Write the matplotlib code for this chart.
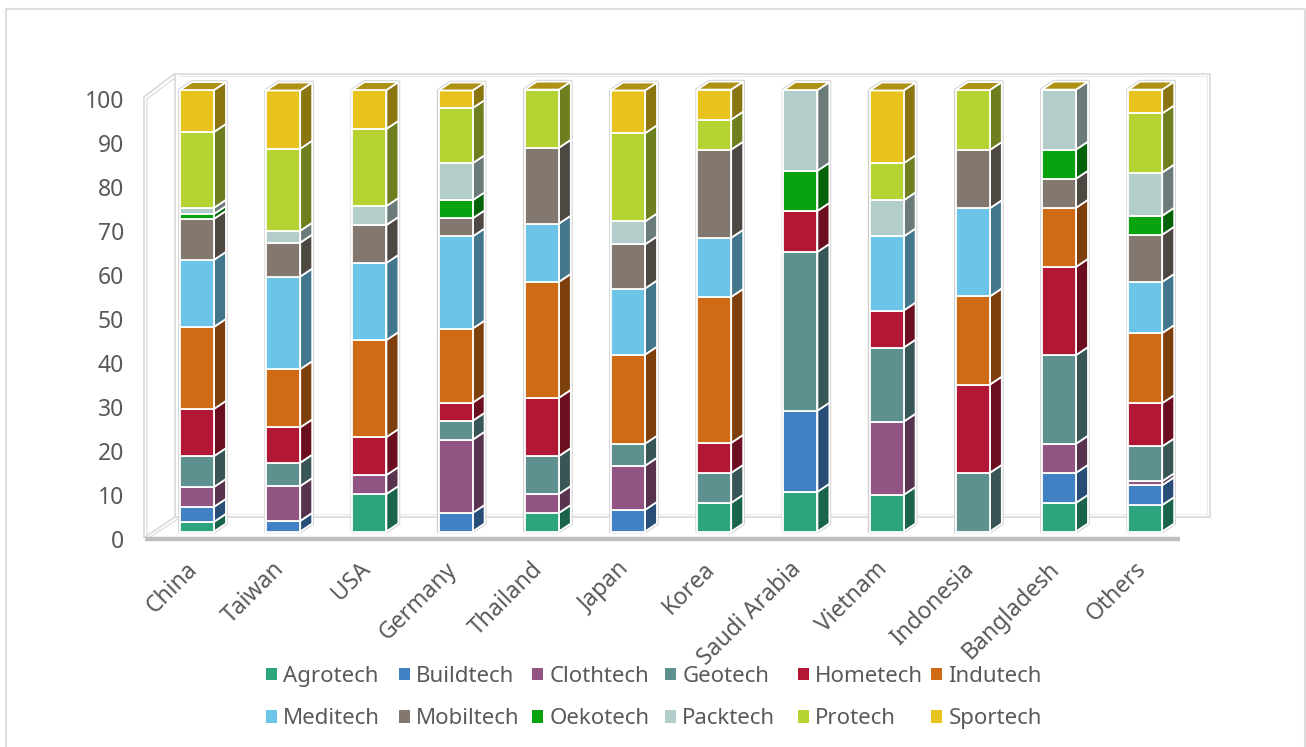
import matplotlib
matplotlib.use("Agg")
import matplotlib.pyplot as plt
from matplotlib.lines import Line2D
from matplotlib.patches import Polygon, Patch
from matplotlib.transforms import Affine2D
from matplotlib.colors import to_rgb

countries = ["China", "Taiwan", "USA", "Germany", "Thailand", "Japan", "Korea",
             "Saudi Arabia", "Vietnam", "Indonesia", "Bangladesh", "Others"]
agrotech  = [2.2, 0, 8.5, 0, 4.2, 0, 6.5, 9, 8.3, 0, 6.5, 6]
buildtech = [3.4, 2.4, 0, 4.2, 0, 4.9, 0, 18.4, 0, 0, 6.8, 4.5]
clothtech = [4.5, 7.9, 4.3, 16.6, 4.3, 10, 0, 0, 16.6, 0, 6.6, 0.9]
geotech   = [7, 5.3, 0, 4.3, 8.6, 5, 6.8, 36, 16.8, 13.3, 20.1, 7.9]
hometech  = [10.7, 8, 8.6, 4.1, 13.2, 0, 6.8, 9.3, 8.4, 20, 20, 9.8]
indutech  = [18.6, 13.2, 22, 16.8, 26.3, 20.2, 33.1, 0, 0, 20, 13.4, 15.9]
meditech  = [15.2, 21, 17.5, 20.9, 13.2, 15, 13.4, 0, 16.8, 20, 0, 11.6]
mobiltech = [9.3, 7.7, 8.6, 4.1, 17.2, 10, 20, 0, 0, 13.2, 6.6, 10.7]
oekotech  = [1.1, 0, 0, 4.1, 0, 0, 0, 9.1, 0, 0, 6.6, 4.3]
packtech  = [1.4, 2.7, 4.3, 8.4, 0, 5.2, 0, 18.3, 8.2, 0, 13.6, 9.8]
protech   = [17.2, 18.6, 17.5, 12.5, 13.2, 20, 6.8, 0, 8.4, 13.6, 0, 13.4]
sportech  = [9.5, 13.2, 8.8, 4.0, 0, 9.7, 6.8, 0, 16.5, 0, 0, 5.4]
series_names = ["Agrotech", "Buildtech", "Clothtech", "Geotech", "Hometech", "Indutech",
                "Meditech", "Mobiltech", "Oekotech", "Packtech", "Protech", "Sportech"]
series_values = [agrotech, buildtech, clothtech, geotech, hometech, indutech,
                 meditech, mobiltech, oekotech, packtech, protech, sportech]
series_colors = ["#2CA57F", "#4280C4", "#925583", "#5F9090", "#B21736", "#D06B15",
                 "#6DC4E9", "#827870", "#07A30F", "#B3CDCB", "#B5D433", "#E8C31D"]
y_ticks = list(range(0, 101, 10))

W, H = 1306, 747
TEXT = "#595959"
FS = 16
FS_TICK = 16.5
plt.rcParams["font.family"] = ["Noto Sans", "DejaVu Sans"]

fig = plt.figure(figsize=(W / 100, H / 100), dpi=100, facecolor="white")

# pixel geometry
L, R, B, T = 145, 1180, 538, 97
x0_px, step_px = 197, 86.2
ax = fig.add_axes([L / W, 1 - B / H, (R - L) / W, (B - T) / H])
ax.set_zorder(5)
ax.set_xlim((L - x0_px) / step_px, (R - x0_px) / step_px)
ax.set_ylim(0, 100)
ax.patch.set_alpha(0)
for s in ax.spines.values():
    s.set_visible(False)
ax.set_yticks(y_ticks)
ax.tick_params(axis="y", length=0, pad=15, labelsize=FS_TICK, labelcolor=TEXT)
for lab in ax.get_yticklabels():
    lab.set_transform(lab.get_transform() + Affine2D().translate(0, -1.5))
ax.set_xticks(range(len(countries)))
ax.set_xticklabels(countries, rotation=45, ha="right", va="top", rotation_mode="anchor")
ax.tick_params(axis="x", length=0, pad=14, labelsize=FS_TICK, labelcolor=TEXT)
for lab in ax.get_xticklabels():
    lab.set_transform(lab.get_transform() + Affine2D().translate(-11, 0))


def line(pts, color="#D9D9D9", lw=1.2, z=1):
    xs = [p[0] / W for p in pts]
    ys = [1 - p[1] / H for p in pts]
    fig.add_artist(Line2D(xs, ys, transform=fig.transFigure, color=color, lw=lw, zorder=z,
                          solid_capstyle="butt"))


# chart border
line([(6, H), (6, 9), (1305, 9), (1305, H)], color="#DDDDDD", lw=1.5)
# walls and floor
line([(144, 538), (144, 97), (174, 74), (1210, 74), (1210, 517), (175, 517), (175, 74)], lw=1.2)
line([(147, 538), (147, 99), (175, 78)], lw=0.8)
line([(145, 537), (175, 517)], lw=1.2)
line([(150, 537), (178, 519)], lw=0.8)
line([(178, 514), (1207, 514), (1207, 76), (178, 76)], lw=0.6, color="#E6E6E6")
line([(145, 538.5), (1180, 538.5)], color="#BFBFBF", lw=3.2, z=1)

# bars
bar_tr = ax.transData + Affine2D().translate(0, 6.5)
WIDTH = 34 / step_px
DX = 12 / step_px
DY = 8 / 4.41


def shade(c, f):
    return tuple(v * f for v in to_rgb(c))


for i in range(len(countries)):
    total = sum(v[i] for v in series_values)
    xr = i + WIDTH / 2
    xl = i - WIDTH / 2
    ax.add_patch(Polygon([(xl, 0), (xr, 0), (xr + DX, DY), (xr + DX, total + DY),
                          (xl + DX, total + DY), (xl, total)], closed=True,
                         facecolor="white", edgecolor="#CFCFCF", lw=2.6, transform=bar_tr,
                         zorder=2, joinstyle="round", clip_on=False))
    bottom = 0
    for vals, color in zip(series_values, series_colors):
        v = vals[i]
        if v <= 0:
            continue
        ax.bar(i, v, WIDTH, bottom=bottom, color=color, edgecolor="white", lw=1.3,
               transform=bar_tr, zorder=4, clip_on=False)
        ax.add_patch(Polygon([(xr, bottom), (xr + DX, bottom + DY), (xr + DX, bottom + v + DY),
                              (xr, bottom + v)], closed=True, facecolor=shade(color, 0.6),
                             edgecolor="white", lw=1.3, transform=bar_tr, zorder=3, clip_on=False))
        bottom += v
    # the cap always belongs to the last series of the stack, even when its value is zero
    ax.add_patch(Polygon([(xl, bottom), (xr, bottom), (xr + DX, bottom + DY), (xl + DX, bottom + DY)],
                         closed=True, facecolor=shade(series_colors[-1], 0.75), edgecolor="white",
                         lw=1.3, transform=bar_tr, zorder=5, clip_on=False))

ax.set_xlim((L - x0_px) / step_px, (R - x0_px) / step_px)
ax.set_ylim(0, 100)

# legend: six equally spaced columns of two entries
LEG_X0, LEG_STEP, LEG_Y = 266, 133, 697.5
for col in range(6):
    idx = [col, col + 6]
    leg = fig.legend([Patch(facecolor=series_colors[k], edgecolor="none") for k in idx],
                     [series_names[k] for k in idx], ncol=1, loc="center left",
                     bbox_to_anchor=((LEG_X0 + col * LEG_STEP) / W, 1 - LEG_Y / H), frameon=False,
                     fontsize=FS, labelcolor=TEXT, handlelength=0.5, handleheight=0.5,
                     handletextpad=0.28, labelspacing=0.95, borderpad=0, borderaxespad=0)
    leg.set_zorder(6)

fig.savefig("out.png", dpi=100, facecolor="white")
